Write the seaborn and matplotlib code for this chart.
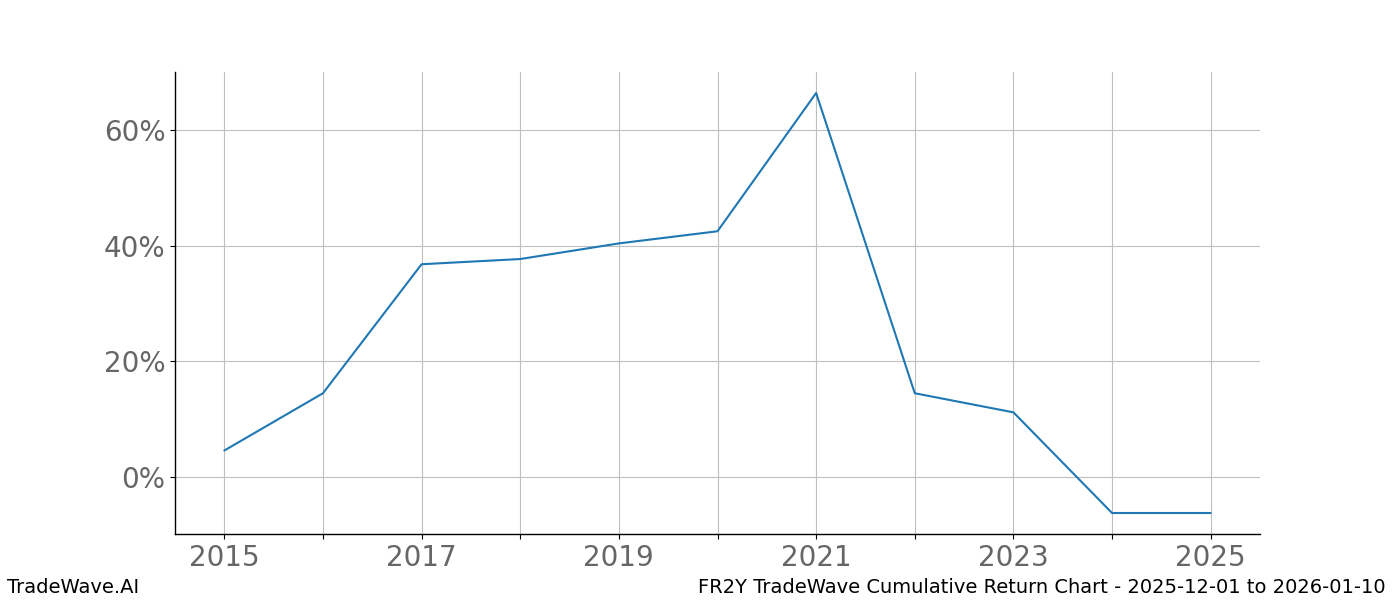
import matplotlib
matplotlib.use("Agg")
import matplotlib.pyplot as plt
import matplotlib.ticker as mticker
import seaborn as sns
import pandas as pd

years = [2015, 2016, 2017, 2018, 2019, 2020, 2021, 2022, 2023, 2024, 2025]
returns = [4.6, 14.5, 36.8, 37.7, 40.4, 42.5, 66.4, 14.5, 11.2, -6.2, -6.2]
tick_labels_years = [2015, 2017, 2019, 2021, 2023, 2025]

df = pd.DataFrame({"year": years, "ret": returns})

sns.set_style("white")
plt.rcParams['font.family'] = ['DejaVu Sans']

fig, ax = plt.subplots(figsize=(14, 6), dpi=100)
sns.lineplot(data=df, x="year", y="ret", ax=ax, color="#1f77b4", linewidth=1.5)

ax.set_xticks(years)
ax.set_xticklabels([str(y) if y in tick_labels_years else "" for y in years])
ax.yaxis.set_major_locator(mticker.MultipleLocator(20))
ax.yaxis.set_major_formatter(mticker.FuncFormatter(lambda v, p: f"{v:.0f}%"))
ax.tick_params(axis="both", labelsize=20, labelcolor="#666666", length=3.5, width=0.8,
               pad=3.5, color="black", bottom=True, left=True)
ax.grid(True, color="#bfbfbf", linewidth=0.8)
ax.set_xlabel("")
ax.set_ylabel("")
for s in ["top", "right"]:
    ax.spines[s].set_visible(False)
for s in ["left", "bottom"]:
    ax.spines[s].set_color("black")
    ax.spines[s].set_linewidth(1)

fig.subplots_adjust(left=0.125, right=0.9, top=0.88, bottom=0.11)
fig.text(0.005, 0.005, "TradeWave.AI", fontsize=14, ha="left", va="bottom", color="black")
fig.text(0.99, 0.005, "FR2Y TradeWave Cumulative Return Chart - 2025-12-01 to 2026-01-10",
         fontsize=14, ha="right", va="bottom", color="black")

fig.savefig("out.png", dpi=100)
